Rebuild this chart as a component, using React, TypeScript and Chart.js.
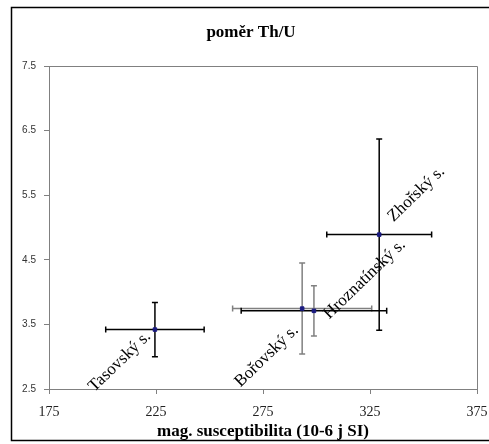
import React, { useEffect, useRef } from "react";
import { Chart, registerables } from "chart.js";

Chart.register(...registerables);

const categories = ["Tasovský s.", "Bořovský s.", "Hroznatínský s.", "Zhořský s."];
const xValues = [224.5, 293.3, 298.8, 329.3];
const yValues = [3.42, 3.745, 3.71, 4.89];
const xErrors = [23, 32.5, 34, 24.5];
const yErrors = [0.42, 0.705, 0.39, 1.48];
const xTicks = [175, 225, 275, 325, 375];
const yTicks = [2.5, 3.5, 4.5, 5.5, 6.5, 7.5];
const chartTitle = "poměr Th/U";
const xTitle = "mag. susceptibilita (10-6 j SI)";

const xErrColors = ["#000000", "#808080", "#000000", "#000000"];
const yErrColors = ["#000000", "#808080", "#808080", "#000000"];
const labelPlacement = [
  { align: "right", u: -8, v: 3 },
  { align: "right", u: -18, v: 14 },
  { align: "left", u: 5, v: 17 },
  { align: "left", u: 19, v: 1 },
];

const decorPlugin = {
  id: "decor",
  beforeDraw(chart: any) {
    const { ctx, chartArea } = chart;
    ctx.save();
    ctx.fillStyle = "#ffffff";
    ctx.fillRect(0, 0, chart.width, chart.height);
    ctx.strokeStyle = "#000000";
    ctx.lineWidth = 1.5;
    ctx.strokeRect(11.5, 7.5, 490, 433);
    ctx.strokeStyle = "#808080";
    ctx.lineWidth = 1;
    ctx.beginPath();
    ctx.moveTo(chartArea.left, Math.round(chartArea.top) + 0.5);
    ctx.lineTo(Math.round(chartArea.right) + 0.5, Math.round(chartArea.top) + 0.5);
    ctx.lineTo(Math.round(chartArea.right) + 0.5, chartArea.bottom);
    ctx.stroke();
    ctx.fillStyle = "#000000";
    ctx.textAlign = "center";
    ctx.textBaseline = "alphabetic";
    ctx.font = "bold 17px 'Liberation Serif'";
    ctx.fillText(chartTitle, 251, 37);
    ctx.font = "bold 17px 'Liberation Serif'";
    ctx.fillText(xTitle, (chartArea.left + chartArea.right) / 2, 436);
    ctx.restore();
  },
  beforeDatasetsDraw(chart: any) {
    const { ctx, scales } = chart;
    const xs = scales.x;
    const ys = scales.y;
    ctx.save();
    ctx.lineWidth = 1.5;
    const cap = 3;
    for (let i = 0; i < xValues.length; i++) {
      const px = xs.getPixelForValue(xValues[i]);
      const py = ys.getPixelForValue(yValues[i]);
      const x0 = xs.getPixelForValue(xValues[i] - xErrors[i]);
      const x1 = xs.getPixelForValue(xValues[i] + xErrors[i]);
      const y0 = ys.getPixelForValue(yValues[i] - yErrors[i]);
      const y1 = ys.getPixelForValue(yValues[i] + yErrors[i]);
      ctx.strokeStyle = xErrColors[i];
      ctx.beginPath();
      ctx.moveTo(x0, py);
      ctx.lineTo(x1, py);
      ctx.moveTo(x0, py - cap);
      ctx.lineTo(x0, py + cap);
      ctx.moveTo(x1, py - cap);
      ctx.lineTo(x1, py + cap);
      ctx.stroke();
      ctx.strokeStyle = yErrColors[i];
      ctx.beginPath();
      ctx.moveTo(px, y0);
      ctx.lineTo(px, y1);
      ctx.moveTo(px - cap, y0);
      ctx.lineTo(px + cap, y0);
      ctx.moveTo(px - cap, y1);
      ctx.lineTo(px + cap, y1);
      ctx.stroke();
    }
    ctx.restore();
  },
  afterDatasetsDraw(chart: any) {
    const { ctx, scales } = chart;
    ctx.save();
    ctx.font = "17px 'Liberation Serif'";
    ctx.fillStyle = "#000000";
    ctx.textBaseline = "alphabetic";
    for (let i = 0; i < categories.length; i++) {
      const px = scales.x.getPixelForValue(xValues[i]);
      const py = scales.y.getPixelForValue(yValues[i]);
      const p = labelPlacement[i];
      ctx.save();
      ctx.translate(px, py);
      ctx.rotate((-44 * Math.PI) / 180);
      ctx.textAlign = p.align as CanvasTextAlign;
      ctx.fillText(categories[i], p.u, p.v);
      ctx.restore();
    }
    ctx.restore();
  },
};

export default function App() {
  const ref = useRef<HTMLCanvasElement | null>(null);
  useEffect(() => {
    if (!ref.current) return;
    const chart = new Chart(ref.current, {
      type: "scatter",
      data: {
        datasets: [
          {
            label: "Th/U",
            data: xValues.map((x, i) => ({ x, y: yValues[i] })),
            pointStyle: "rect",
            pointRadius: 2.5,
            pointBackgroundColor: "#1a1a80",
            pointBorderColor: "#1a1a80",
            pointBorderWidth: 1,
          },
        ],
      },
      options: {
        animation: false,
        responsive: false,
        devicePixelRatio: 1,
        layout: { padding: { left: 12, right: 12, top: 66, bottom: 0 } },
        plugins: {
          legend: { display: false },
          title: { display: false },
          tooltip: { enabled: false },
        },
        scales: {
          x: {
            type: "linear",
            min: 175,
            max: 375,
            afterBuildTicks: (s: any) => {
              s.ticks = xTicks.map((v) => ({ value: v }));
            },
            afterFit: (s: any) => {
              s.height = 55;
              s.paddingLeft = 0;
              s.paddingRight = 0;
            },
            ticks: {
              font: { family: "'Liberation Serif'", size: 14 },
              color: "#222222",
              padding: 10,
              maxRotation: 0,
              callback: (v: any) => String(v),
            },
            grid: {
              drawOnChartArea: false,
              drawTicks: true,
              tickLength: 5,
              color: "#808080",
            },
            border: { color: "#808080", width: 1 },
          },
          y: {
            type: "linear",
            min: 2.5,
            max: 7.5,
            afterBuildTicks: (s: any) => {
              s.ticks = yTicks.map((v) => ({ value: v }));
            },
            afterFit: (s: any) => {
              s.width = 37;
              s.paddingTop = 0;
              s.paddingBottom = 0;
            },
            ticks: {
              font: { family: "'Liberation Sans'", size: 10 },
              color: "#333333",
              padding: 8,
              callback: (v: any) => String(v),
            },
            grid: {
              drawOnChartArea: false,
              drawTicks: true,
              tickLength: 5,
              color: "#808080",
            },
            border: { color: "#808080", width: 1 },
          },
        },
      },
      plugins: [decorPlugin],
    });
    return () => chart.destroy();
  }, []);
  return (
    <div style={{ position: "absolute", left: 0, top: 0, width: 489, height: 444 }}>
      <canvas ref={ref} width={489} height={444} style={{ display: "block" }} />
    </div>
  );
}
